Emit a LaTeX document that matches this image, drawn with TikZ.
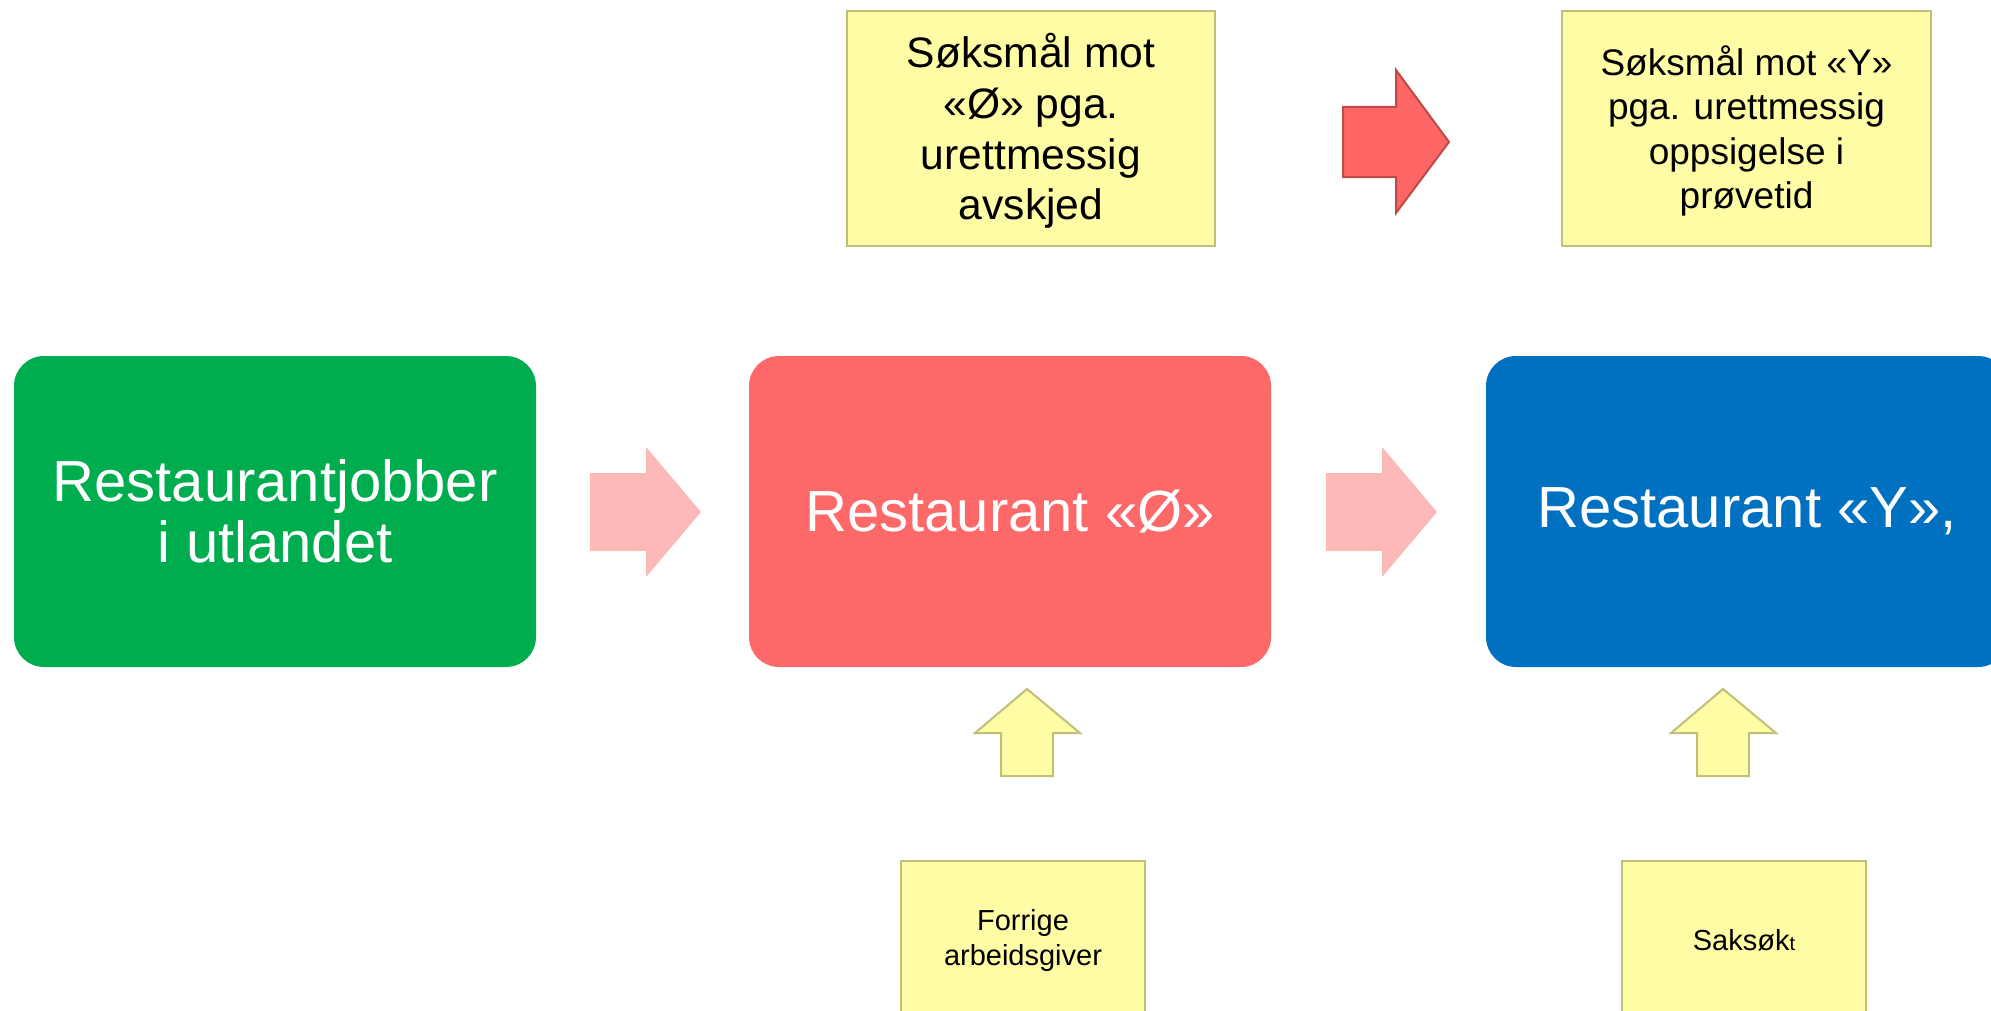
\documentclass[tikz,border=0pt]{standalone}
\usepackage{fontspec}
\setmainfont{Liberation Sans}
\definecolor{boxgreen}{HTML}{00AD4E}
\definecolor{boxred}{HTML}{FD6868}
\definecolor{boxblue}{HTML}{0070C0}
\definecolor{pinkarrow}{HTML}{FDB8B8}
\definecolor{redarrow}{HTML}{FF6666}
\definecolor{redborder}{HTML}{BE4B48}
\definecolor{noteyellow}{HTML}{FFFCA6}
\definecolor{noteborder}{HTML}{C0BE78}
\begin{document}
\begin{tikzpicture}[x=0.5pt,y=-0.5pt,
  bigbox/.style={rounded corners=15pt, minimum width=261pt, minimum height=155.5pt,
    inner sep=0pt, text=white, align=center, font=\fontsize{29}{30.5}\selectfont},
  note/.style={draw=noteborder, fill=noteyellow, line width=1pt, inner sep=0pt,
    align=center, text=black},
  pinkarr/.style={fill=pinkarrow},
  upyellow/.style={draw=noteborder, fill=noteyellow, line width=1pt, line join=miter},
]
\useasboundingbox (0,0) rectangle (1991,1011);
\clip (0,0) rectangle (1991,1011);

% main boxes
\node[bigbox, fill=boxgreen] (green) at (275,511.5) {Restaurantjobber\\i utlandet};
\node[bigbox, fill=boxred] (red) at (1010,511.5) {Restaurant «Ø»};
\node[bigbox, fill=boxblue] (blue) at (1747,511.5) {Restaurant «Y»,};

% top notes
\node[note, minimum width=184pt, minimum height=117.5pt] (top1) at (1031,128.5) {};
\node[font=\fontsize{21.3}{25.4}\selectfont, align=center, inner sep=0pt]
  (top1text) at (1031,131) {Søksmål mot\\«Ø» pga.\\urettmessig\\avskjed};
\node[note, minimum width=184.5pt, minimum height=117.5pt] (top2) at (1746.5,128.5) {};
\node[font=\fontsize{18.5}{22.3}\selectfont, align=center, inner sep=0pt]
  (top2text) at (1746.5,131) {Søksmål mot «Y»\\pga. urettmessig\\oppsigelse i\\prøvetid};

% bottom notes
\node[note, minimum width=122pt, minimum height=79.5pt,
  font=\fontsize{14.5}{17.5}\selectfont] (bot1) at (1023,940.5)
  {Forrige\\arbeidsgiver};
\node[note, minimum width=122pt, minimum height=79.5pt,
  font=\fontsize{14.5}{17.5}\selectfont] (bot2) at (1744,940.5)
  {Saksøk{\fontsize{10}{12}\selectfont t}};

% pink block arrows between main boxes
\fill[pinkarr] (590,473) -- (646,473) -- (646,447) -- (701,512) -- (646,577) -- (646,551) -- (590,551) -- cycle;
\fill[pinkarr] (1326,473) -- (1382,473) -- (1382,447) -- (1437,512) -- (1382,577) -- (1382,551) -- (1326,551) -- cycle;

% red block arrow between top notes
\filldraw[fill=redarrow, draw=redborder, line width=1pt, line join=miter]
  (1343,107) -- (1396,107) -- (1396,70) -- (1449,142) -- (1396,213) -- (1396,177) -- (1343,177) -- cycle;

% yellow up arrows
\filldraw[upyellow] (1001,776) -- (1001,733) -- (975,733) -- (1027,689) -- (1080,733) -- (1053,733) -- (1053,776) -- cycle;
\filldraw[upyellow] (1697,776) -- (1697,733) -- (1671,733) -- (1723,689) -- (1776,733) -- (1749,733) -- (1749,776) -- cycle;
\end{tikzpicture}
\end{document}
